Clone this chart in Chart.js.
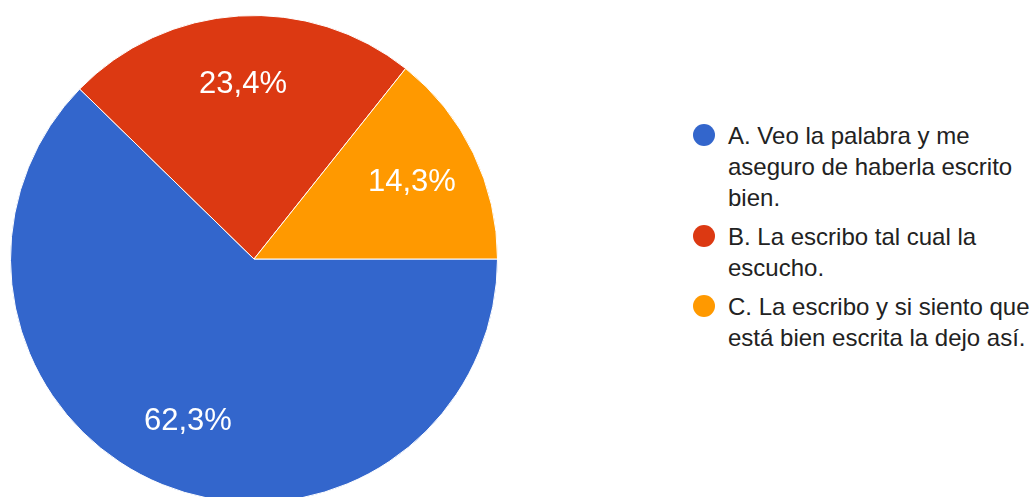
<!DOCTYPE html>
<html>
<head>
<meta charset="utf-8">
<script src="https://cdn.jsdelivr.net/npm/chart.js@4"></script>
<style>
html,body{margin:0;padding:0;background:#fff;overflow:hidden;width:1033px;height:497px;}
#pie{position:absolute;left:10px;top:15px;width:488px;height:488px;}
#leg{position:absolute;left:693px;top:120px;width:340px;font-family:"Liberation Sans",Arial,sans-serif;font-size:24px;line-height:31px;color:#222;}
.it{position:relative;padding-left:35px;margin-bottom:8px;}
.dot{position:absolute;left:0;top:4px;width:22px;height:22px;border-radius:50%;}
</style>
</head>
<body>
<div id="pie"><canvas id="c"></canvas></div>
<div id="leg"></div>
<script>
const cats=[
['A. Veo la palabra y me','aseguro de haberla escrito','bien.'],
['B. La escribo tal cual la','escucho.'],
['C. La escribo y si siento que','está bien escrita la dejo así.']
];
const vals=[62.3,23.4,14.3];
const cols=['#3366cc','#dc3912','#ff9900'];

// percent text inside each slice
const pctLabels={
id:'pctLabels',
afterDatasetsDraw(ch){
const ctx=ch.ctx;
const meta=ch.getDatasetMeta(0);
const tot=vals.reduce((a,b)=>a+b,0);
ctx.save();
ctx.fillStyle='#fff';
ctx.font='31px "Liberation Sans", Arial, sans-serif';
ctx.textAlign='center';
ctx.textBaseline='middle';
meta.data.forEach((arc,i)=>{
var p=arc.getProps(['x','y','startAngle','endAngle','outerRadius'],true);
var a=(p.startAngle+p.endAngle)/2;
var r=p.outerRadius*0.72;
var t=(vals[i]/tot*100).toFixed(1).replace('.',',')+'%';
ctx.fillText(t,p.x+Math.cos(a)*r,p.y+Math.sin(a)*r);
});
ctx.restore();
}
};

new Chart(document.getElementById('c').getContext('2d'),{
type:'pie',
data:{
labels:cats,
datasets:[{
data:vals,
backgroundColor:cols,
borderColor:'#fff',
borderWidth:1,
hoverOffset:0
}]
},
options:{
responsive:true,
maintainAspectRatio:false,
animation:false,
rotation:90,
layout:{padding:0},
plugins:{
legend:{display:false},
tooltip:{enabled:false}
}
},
plugins:[pctLabels]
});

// legend on the right
var lg=document.getElementById('leg');
cats.forEach((c,i)=>{
var d=document.createElement('div');
d.className='it';
d.innerHTML='<span class="dot" style="background:'+cols[i]+'"></span>'+c.join('<br>');
lg.appendChild(d);
});
</script>
</body>
</html>
